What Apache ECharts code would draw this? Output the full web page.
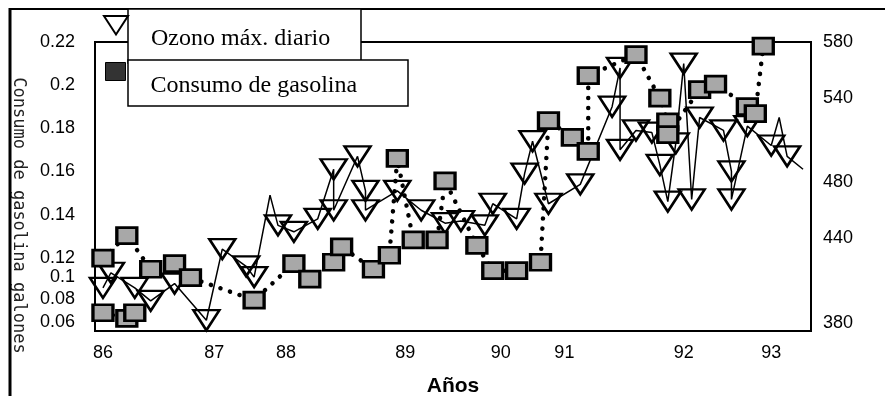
<!DOCTYPE html>
<html>
<head>
<meta charset="utf-8">
<title>Ozono y consumo de gasolina</title>
<script src="https://cdn.jsdelivr.net/npm/echarts@6/dist/echarts.min.js"></script>
<style>
  html, body { margin: 0; padding: 0; background: #fff; }
  #chart { width: 885px; height: 406px; }
</style>
</head>
<body>
<div id="chart"></div>
<script>
// eje x: meses, solo algunos llevan el año
const monthCount = 91;
const yearLabels = ['86', '87', '88', '89', '90', '91', '92', '93'];
const yearIndex = [1, 15, 24, 39, 51, 59, 74, 85];

// ozono máx. diario (ppm), mark = 1 -> triángulo
const ozoneIdx = [1, 2, 5, 7, 10, 14, 16, 19, 20, 22, 23, 25, 28, 30, 30, 33, 34, 34, 38, 41, 44, 46, 49, 50, 53, 54, 55, 57, 61, 65, 66, 66, 68, 70, 71, 72, 73, 74, 75, 76, 79, 80, 80, 82, 85, 86, 87, 89];
const ozoneVal = [0.106, 0.113, 0.106, 0.100, 0.108, 0.091, 0.124, 0.116, 0.111, 0.149, 0.135, 0.132, 0.138, 0.161, 0.142, 0.167, 0.151, 0.142, 0.151, 0.142, 0.136, 0.137, 0.135, 0.145, 0.138, 0.159, 0.174, 0.145, 0.154, 0.190, 0.208, 0.170, 0.179, 0.178, 0.163, 0.146, 0.173, 0.210, 0.147, 0.185, 0.179, 0.160, 0.147, 0.181, 0.172, 0.185, 0.167, 0.161];
const ozoneMark = [1, 1, 1, 1, 1, 1, 1, 1, 1, 0, 1, 1, 1, 1, 1, 1, 1, 1, 1, 1, 1, 1, 1, 1, 1, 1, 1, 1, 1, 1, 1, 1, 1, 1, 1, 1, 1, 1, 1, 1, 1, 1, 1, 1, 1, 0, 1, 0];

// consumo de gasolina (null = corte de la línea)
const gasIdx = [1, 4, 5, 5, 1, 4, 7, 10, 12, 20, 25, 27, 30, 31, 35, 37, 38, 40, 43, 44, 48, 50, 53, 56, 57, 60, 62, 62, 68, 71, 72, 72, 76, 78, 82, 83, 84];
const gasVal = [387, 383, 387, null, 426, 442, 418, 422, 412, 396, 422, 411, 423, 434, 418, 428, 497, 439, 439, 481, 435, 417, 417, 423, 524, 512, 502, 556, 571, 540, 523, 514, 546, 550, 534, 529, 577];

const chart = echarts.init(document.getElementById('chart'));

const categories = Array.from({ length: monthCount }, (_, i) => 'm' + i);
const labelAt = {};
yearIndex.forEach((idx, k) => { labelAt[idx] = yearLabels[k]; });

const triangle = 'path://M0,0 L26,0 L13,20 Z';

const ozoneData = ozoneIdx.map((idx, k) => ({
  value: [idx, ozoneVal[k]],
  symbol: ozoneMark[k] ? triangle : 'none'
}));
const gasData = gasIdx.map((idx, k) => [idx, gasVal[k] === null ? '-' : gasVal[k]]);

const tickFont = { fontFamily: 'Liberation Sans', fontSize: 18, color: '#000' };
const legendFont = { fontFamily: 'Liberation Serif', fontSize: 24, color: '#000' };

const option = {
  animation: false,
  backgroundColor: '#fff',
  graphic: [
    { type: 'line', shape: { x1: 10, y1: 8, x2: 10, y2: 396 }, style: { stroke: '#000', lineWidth: 3 }, z: 1 },
    { type: 'line', shape: { x1: 10, y1: 9, x2: 885, y2: 9 }, style: { stroke: '#000', lineWidth: 2 }, z: 1 },
    { type: 'rect', shape: { x: 128, y: 9, width: 233, height: 54 }, style: { fill: '#fff', stroke: '#000', lineWidth: 1.5 }, z: 1 },
    { type: 'rect', shape: { x: 128, y: 60, width: 280, height: 46 }, style: { fill: '#fff', stroke: '#000', lineWidth: 1.5 }, z: 3 }
  ],
  legend: [
    {
      data: [{ name: 'Ozono máx. diario', icon: triangle }],
      left: 103,
      top: 15,
      padding: 0,
      itemWidth: 24,
      itemHeight: 23,
      selectedMode: false,
      z: 5,
      formatter: '{t|{name}}',
      textStyle: Object.assign({ rich: { t: Object.assign({ padding: [27, 0, 0, 18] }, legendFont) } }, legendFont)
    },
    {
      data: [{ name: 'Consumo de gasolina', icon: 'rect', itemStyle: { color: '#333', borderColor: '#000', borderWidth: 1 } }],
      left: 105,
      top: 62,
      padding: 0,
      itemWidth: 20,
      itemHeight: 18,
      selectedMode: false,
      z: 5,
      formatter: '{t|{name}}',
      textStyle: Object.assign({ rich: { t: Object.assign({ padding: [28, 0, 0, 20] }, legendFont) } }, legendFont)
    }
  ],
  grid: {
    left: 95,
    right: 74,
    top: 42,
    bottom: 75,
    show: true,
    borderColor: '#000',
    borderWidth: 2,
    outerBoundsMode: 'none'
  },
  xAxis: {
    type: 'category',
    data: categories,
    boundaryGap: false,
    axisLine: { show: false },
    axisTick: { show: false },
    splitLine: { show: false },
    axisLabel: Object.assign({
      interval: 0,
      margin: 13,
      formatter: (val, idx) => labelAt[idx] || ''
    }, tickFont),
    name: 'Años',
    nameLocation: 'middle',
    nameGap: 45,
    nameTextStyle: { fontFamily: 'Liberation Sans', fontSize: 21, fontWeight: 'bold', color: '#000' }
  },
  yAxis: [
    {
      type: 'value',
      position: 'left',
      min: 0.086,
      max: 0.22,
      axisLine: { show: false },
      axisTick: { show: false },
      splitLine: { show: false },
      axisLabel: Object.assign({ customValues: [0.12, 0.14, 0.16, 0.18, 0.2, 0.22], margin: 20 }, tickFont),
      name: 'Consumo de gasolina galones',
      nameLocation: 'middle',
      nameRotate: -90,
      nameGap: 68,
      nameTextStyle: { fontFamily: 'DejaVu Sans Mono', fontSize: 17, color: '#222', padding: [0, 0, 0, 58] }
    },
    {
      type: 'value',
      position: 'left',
      min: 0.052,
      max: 0.309,
      axisLine: { show: false },
      axisTick: { show: false },
      splitLine: { show: false },
      axisLabel: Object.assign({ customValues: [0.06, 0.08, 0.1], margin: 20 }, tickFont)
    },
    {
      type: 'value',
      position: 'right',
      min: 374,
      max: 580,
      axisLine: { show: false },
      axisTick: { show: false },
      splitLine: { show: false },
      axisLabel: Object.assign({ customValues: [380, 440, 480, 540, 580], margin: 12 }, tickFont)
    }
  ],
  series: [
    {
      name: 'Ozono máx. diario',
      type: 'line',
      yAxisIndex: 0,
      data: ozoneData,
      showAllSymbol: true,
      symbolSize: [26, 20],
      lineStyle: { color: '#000', width: 1.5 },
      itemStyle: { color: 'rgba(255,255,255,0)', borderColor: '#000', borderWidth: 2.5 },
      z: 3
    },
    {
      name: 'Consumo de gasolina',
      type: 'line',
      yAxisIndex: 2,
      data: gasData,
      showAllSymbol: true,
      symbol: 'rect',
      symbolSize: [20, 16],
      lineStyle: { color: '#000', width: 4.5, type: [0.1, 10], cap: 'round' },
      itemStyle: { color: '#a8a8a8', borderColor: '#000', borderWidth: 3 },
      z: 4
    }
  ]
};

chart.setOption(option);
</script>
</body>
</html>
